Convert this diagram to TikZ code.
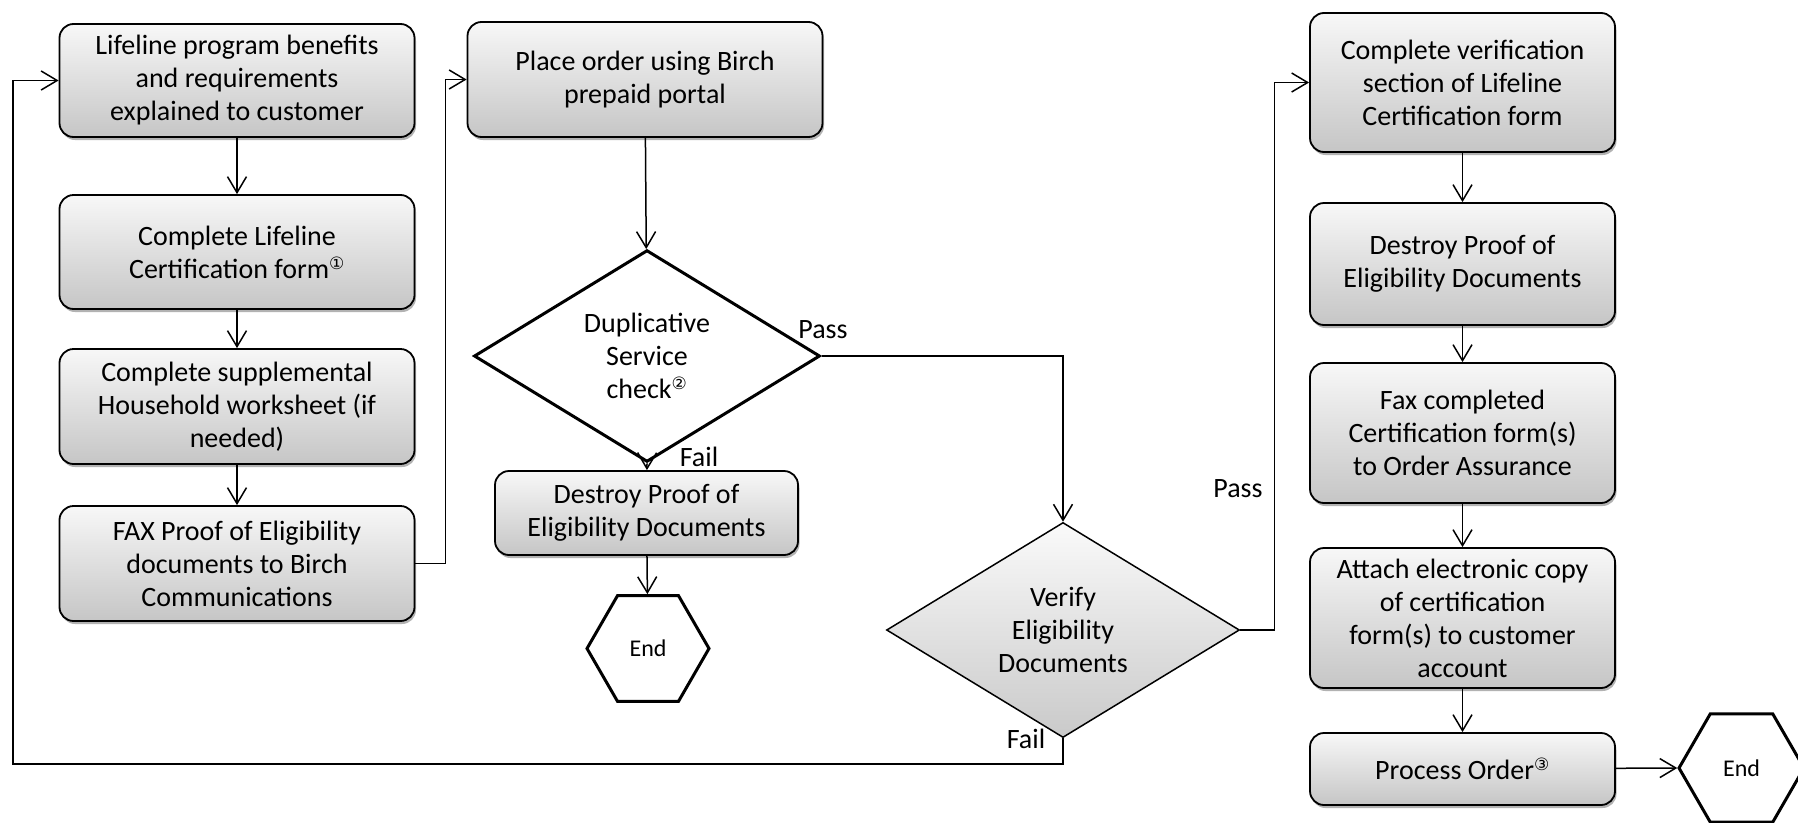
\documentclass[tikz,border=0pt]{standalone}
\usepackage{fontspec}
\setmainfont{Carlito}
\newfontfamily\circfont{DejaVu Sans}
\usetikzlibrary{shapes.geometric,arrows.meta,shadows}
\newcommand{\refmark}[1]{\textsuperscript{\circfont\fontsize{17}{17}\selectfont #1}}
\tikzset{
  procbox/.style={draw,line width=1.8pt,rounded corners=14pt,top color=gray!6,bottom color=gray!45,
    drop shadow={shadow xshift=1.5pt,shadow yshift=-3pt,fill=black!60},
    align=center,inner sep=0pt,minimum width=#1},
  procbox/.default=355pt,
  decision/.style={diamond,draw,align=center,inner sep=0pt},
  terminal/.style={regular polygon,regular polygon sides=6,draw,line width=3pt,fill=white,
    minimum size=124pt,inner sep=0pt,font=\fontsize{24}{28}\selectfont},
  arr/.style={line width=1.5pt,-{Straight Barb[length=16pt,width=19pt,line width=1.5pt]}},
  lbl/.style={inner sep=0pt}
}
\begin{document}
\begin{tikzpicture}[x=1pt,y=-1pt,font=\fontsize{28}{33}\selectfont]
\useasboundingbox (0,0) rectangle (1798,822);
\node[procbox,minimum height=113pt] (life) at (237,80.5) {Lifeline program benefits\\and requirements\\explained to customer};
\node[procbox,minimum height=114pt] (cert) at (237,252) {Complete Lifeline\\Certification form\refmark{①}};
\node[procbox,minimum height=115pt] (supp) at (237,406.5) {Complete supplemental\\Household worksheet (if\\needed)};
\node[procbox,minimum height=115pt] (fax) at (237,563.5) {FAX Proof of Eligibility\\documents to Birch\\Communications};
\node[procbox,minimum height=115pt] (place) at (645,79.5) {Place order using Birch\\prepaid portal};
\node[decision,line width=3pt,fill=white,minimum width=346pt,minimum height=158pt] (dup) at (647,356) {Duplicative\\Service\\check\refmark{②}};
\node[procbox=303pt,minimum height=84pt] (destroyA) at (646.5,513) {Destroy Proof of\\Eligibility Documents};
\node[terminal,minimum size=122pt] (endA) at (648,648.5) {End};
\node[decision,line width=1.5pt,top color=gray!4,bottom color=gray!42,minimum width=353pt,minimum height=180pt] (verify) at (1063,630) {Verify\\Eligibility\\Documents};
\node[procbox=305pt,minimum height=139pt] (verif) at (1462.5,82.5) {Complete verification\\section of Lifeline\\Certification form};
\node[procbox=305pt,minimum height=122pt] (destroyB) at (1462.5,264) {Destroy Proof of\\Eligibility Documents};
\node[procbox=305pt,minimum height=140pt] (faxB) at (1462.5,433) {Fax completed\\Certification form(s)\\to Order Assurance};
\node[procbox=305pt,minimum height=140pt] (attach) at (1462.5,618) {Attach electronic copy\\of certification\\form(s) to customer\\account};
\node[procbox=305pt,minimum height=72pt] (process) at (1462.5,769) {Process Order\refmark{③}};
\node[terminal,minimum size=125pt] (endB) at (1741.5,768) {End};
\node[lbl] (passA) at (823,330) {Pass};
\node[lbl] (failA) at (699,457) {Fail};
\node[lbl] (passB) at (1238,489) {Pass};
\node[lbl] (failB) at (1026,739) {Fail};
\coordinate (corner) at (13,764);
\draw[arr] (life) -- (cert);
\draw[arr] (cert) -- (supp);
\draw[arr] (supp) -- (fax);
\draw[arr] (fax.east) -- ++(30,0) |- (place.west);
\draw[arr] (place) -- (dup);
\draw[arr] (dup.south) -- (destroyA);
\draw[arr] (destroyA) -- (endA);
\draw[arr] (dup.east) -| (verify.north);
\draw[arr] (verify.east) -- ++(34,0) |- (verif.west);
\draw[arr] (verify.south) |- (corner) |- (life.west);
\draw[arr] (verif) -- (destroyB);
\draw[arr] (destroyB) -- (faxB);
\draw[arr] (faxB) -- (attach);
\draw[arr] (attach) -- (process);
\draw[arr] (process) -- (endB.west);
\end{tikzpicture}
\end{document}
